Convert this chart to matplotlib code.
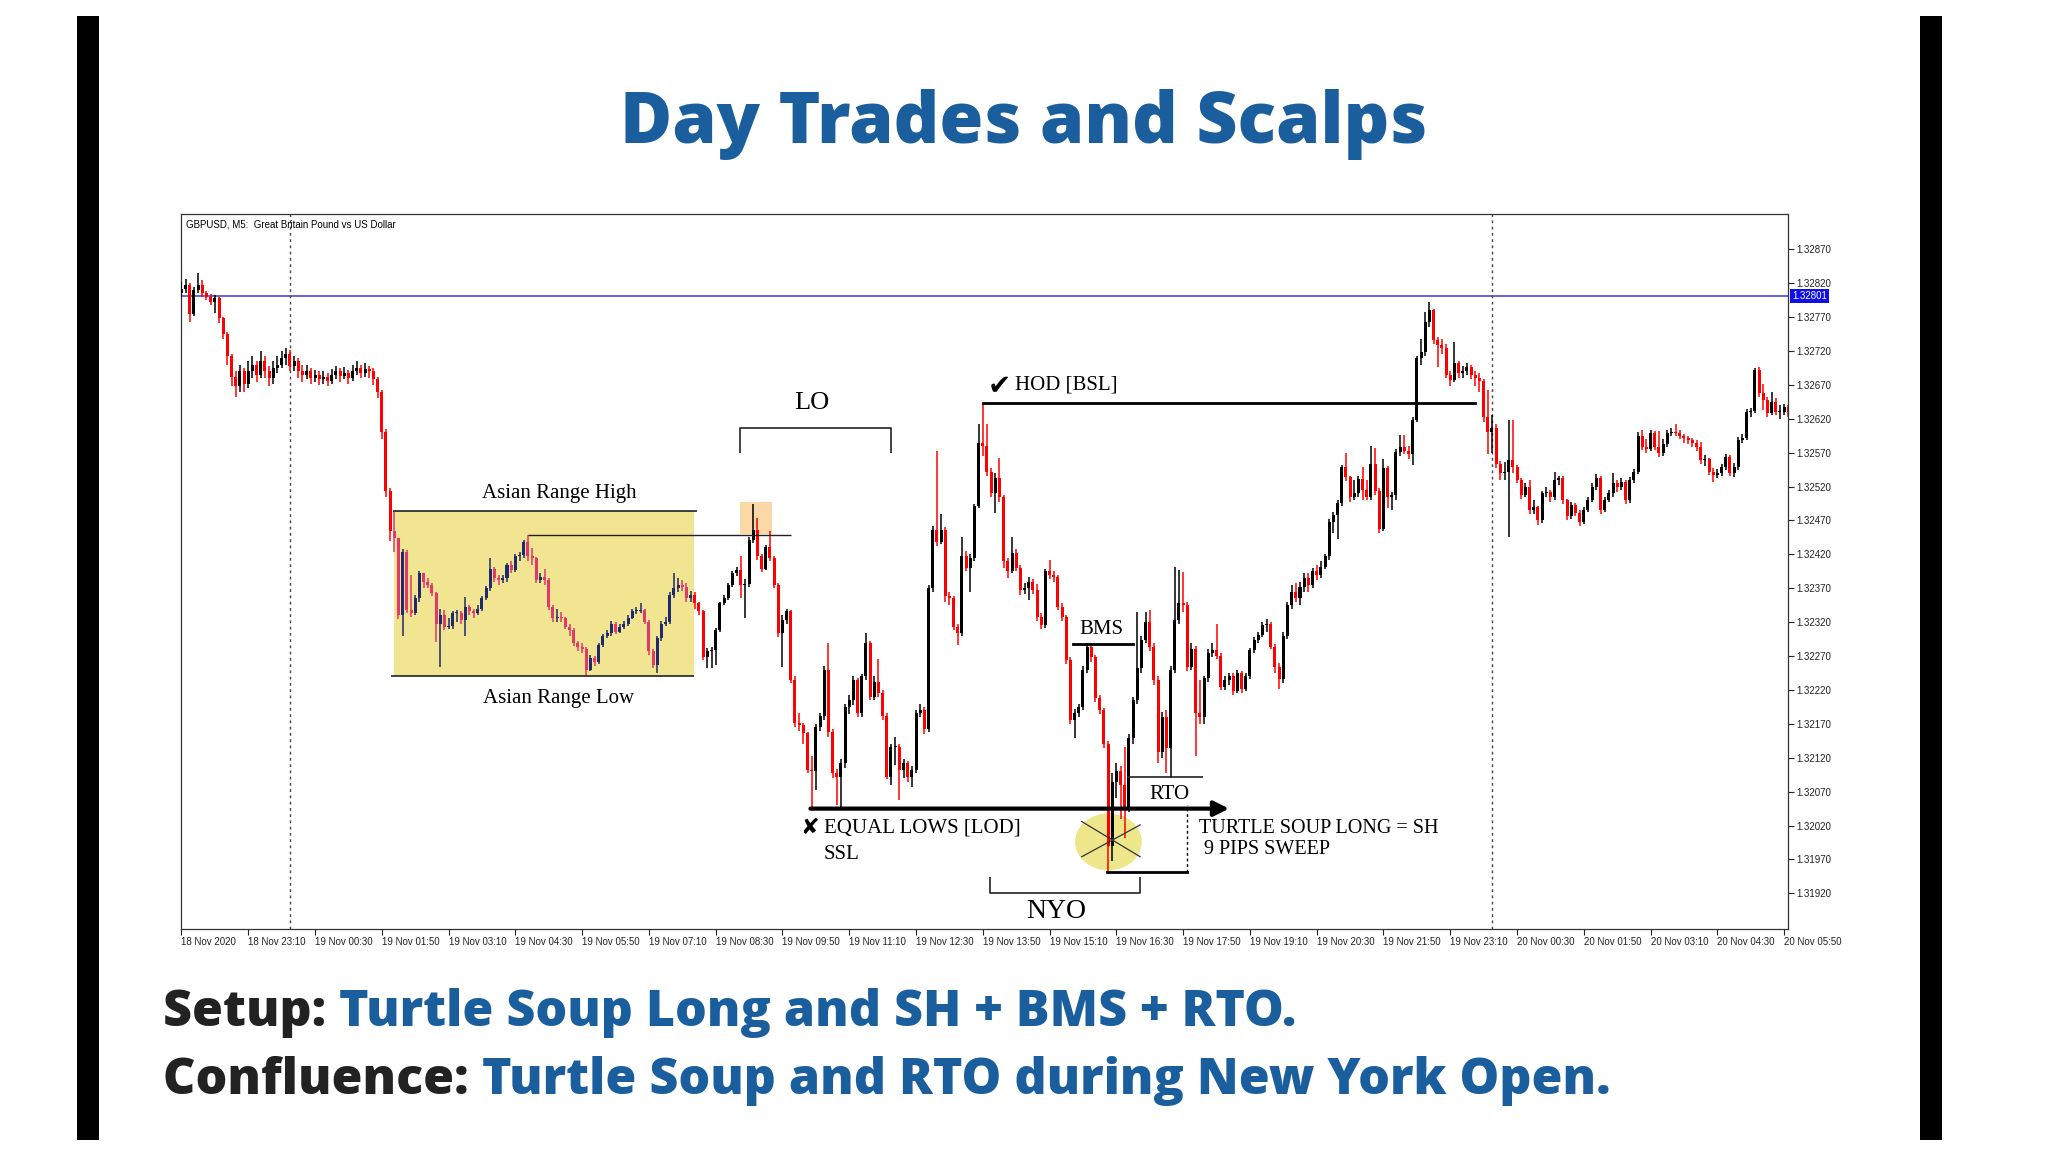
import matplotlib
matplotlib.use('Agg')
import matplotlib.pyplot as plt
from matplotlib.patches import Rectangle, Ellipse
import matplotlib.transforms as mtransforms

# ---------------- data (price = 1.3 + value / 100000), GBPUSD M5 ----------------
first_open = 2805
closes = [
    2812, 2818, 2775, 2810, 2818, 2805, 2800, 2793, 2798, 2768,
    2745, 2712, 2682, 2668, 2690, 2672, 2690, 2700, 2685, 2705,
    2690, 2680, 2695, 2700, 2710, 2715, 2698, 2705, 2690, 2685,
    2690, 2680, 2685, 2678, 2682, 2676, 2684, 2690, 2683, 2688,
    2680, 2690, 2695, 2688, 2693, 2690, 2678, 2660, 2600, 2513,
    2455, 2444, 2331, 2424, 2338, 2333, 2355, 2392, 2380, 2375,
    2363, 2318, 2331, 2313, 2315, 2333, 2333, 2323, 2343, 2336,
    2333, 2340, 2355, 2370, 2399, 2385, 2382, 2385, 2404, 2397,
    2417, 2419, 2439, 2417, 2414, 2382, 2387, 2382, 2343, 2326,
    2328, 2326, 2313, 2309, 2289, 2284, 2281, 2250, 2267, 2262,
    2286, 2299, 2304, 2318, 2306, 2313, 2318, 2326, 2336, 2337,
    2338, 2321, 2277, 2257, 2296, 2318, 2321, 2360, 2370, 2375,
    2372, 2355, 2360, 2348, 2336, 2269, 2277, 2279, 2309, 2348,
    2355, 2375, 2392, 2397, 2375, 2377, 2441, 2456, 2417, 2399,
    2431, 2414, 2375, 2304, 2323, 2336, 2235, 2171, 2168, 2156,
    2102, 2100, 2166, 2181, 2250, 2158, 2097, 2092, 2112, 2195,
    2205, 2235, 2186, 2240, 2289, 2210, 2232, 2215, 2181, 2092,
    2136, 2136, 2102, 2112, 2092, 2102, 2186, 2190, 2163, 2370,
    2456, 2439, 2456, 2358, 2355, 2313, 2304, 2417, 2400, 2414,
    2491, 2585, 2580, 2542, 2511, 2532, 2504, 2410, 2395, 2422,
    2400, 2367, 2370, 2380, 2367, 2328, 2316, 2395, 2390, 2387,
    2343, 2328, 2264, 2176, 2186, 2195, 2250, 2284, 2269, 2208,
    2190, 2141, 1990, 2085, 2100, 2080, 2045, 2149, 2205, 2252,
    2294, 2320, 2284, 2235, 2129, 2180, 2134, 2250, 2323, 2348,
    2345, 2254, 2281, 2186, 2180, 2237, 2274, 2279, 2270, 2225,
    2235, 2240, 2218, 2245, 2222, 2240, 2279, 2294, 2301, 2316,
    2318, 2284, 2254, 2236, 2300, 2345, 2365, 2355, 2372, 2385,
    2375, 2395, 2390, 2402, 2417, 2468, 2478, 2496, 2549, 2534,
    2504, 2510, 2531, 2515, 2504, 2554, 2514, 2458, 2547, 2505,
    2508, 2571, 2579, 2573, 2568, 2618, 2709, 2719, 2763, 2780,
    2736, 2729, 2725, 2685, 2677, 2702, 2687, 2690, 2697, 2685,
    2680, 2676, 2623, 2600, 2606, 2554, 2540, 2542, 2559, 2549,
    2530, 2508, 2520, 2485, 2490, 2471, 2510, 2512, 2505, 2530,
    2532, 2500, 2476, 2493, 2481, 2468, 2485, 2500, 2520, 2532,
    2485, 2500, 2510, 2525, 2520, 2527, 2500, 2530, 2542, 2594,
    2579, 2576, 2599, 2579, 2569, 2583, 2599, 2601, 2599, 2594,
    2591, 2588, 2584, 2578, 2559, 2560, 2542, 2537, 2540, 2549,
    2564, 2540, 2549, 2589, 2591, 2630, 2631, 2692, 2658, 2648,
    2628, 2645, 2630, 2630, 2637, 2630,
]
highs = [
    2822, 2826, 2820, 2815, 2835, 2824, 2808, 2804, 2802, 2800,
    2770, 2748, 2716, 2690, 2700, 2695, 2705, 2712, 2705, 2720,
    2712, 2698, 2705, 2712, 2720, 2725, 2722, 2712, 2710, 2700,
    2700, 2695, 2692, 2690, 2690, 2688, 2694, 2698, 2695, 2696,
    2692, 2700, 2705, 2700, 2702, 2698, 2695, 2682, 2662, 2605,
    2518, 2484, 2444, 2428, 2426, 2390, 2360, 2395, 2392, 2385,
    2378, 2365, 2340, 2338, 2326, 2336, 2338, 2336, 2357, 2346,
    2340, 2345, 2358, 2374, 2414, 2402, 2390, 2390, 2407, 2410,
    2420, 2424, 2441, 2449, 2430, 2416, 2392, 2398, 2385, 2345,
    2340, 2335, 2328, 2318, 2312, 2292, 2290, 2284, 2272, 2270,
    2290, 2302, 2308, 2322, 2320, 2318, 2322, 2330, 2340, 2342,
    2348, 2340, 2323, 2280, 2300, 2322, 2328, 2365, 2392, 2385,
    2382, 2378, 2366, 2364, 2350, 2338, 2282, 2284, 2312, 2350,
    2360, 2378, 2396, 2402, 2417, 2384, 2445, 2495, 2473, 2420,
    2434, 2454, 2418, 2378, 2330, 2340, 2338, 2240, 2186, 2172,
    2158, 2122, 2170, 2186, 2256, 2289, 2162, 2104, 2118, 2200,
    2212, 2240, 2238, 2244, 2304, 2292, 2240, 2265, 2220, 2186,
    2140, 2150, 2140, 2118, 2115, 2108, 2190, 2200, 2195, 2375,
    2462, 2573, 2480, 2460, 2365, 2358, 2318, 2446, 2425, 2420,
    2495, 2613, 2643, 2613, 2548, 2540, 2562, 2508, 2415, 2445,
    2428, 2405, 2378, 2386, 2384, 2377, 2334, 2398, 2412, 2395,
    2390, 2348, 2330, 2268, 2192, 2200, 2255, 2289, 2287, 2272,
    2212, 2194, 2145, 2098, 2112, 2108, 2136, 2155, 2210, 2335,
    2300, 2335, 2338, 2290, 2240, 2188, 2190, 2255, 2402, 2397,
    2394, 2350, 2290, 2285, 2235, 2240, 2280, 2290, 2318, 2275,
    2240, 2245, 2245, 2250, 2248, 2245, 2282, 2298, 2305, 2321,
    2325, 2320, 2288, 2260, 2305, 2350, 2375, 2378, 2380, 2392,
    2392, 2400, 2405, 2410, 2420, 2472, 2482, 2500, 2552, 2570,
    2536, 2530, 2535, 2549, 2530, 2580, 2577, 2518, 2560, 2550,
    2512, 2575, 2596, 2596, 2580, 2622, 2712, 2738, 2778, 2793,
    2782, 2740, 2738, 2730, 2690, 2734, 2705, 2698, 2702, 2700,
    2690, 2688, 2678, 2662, 2625, 2612, 2558, 2556, 2618, 2618,
    2552, 2533, 2525, 2530, 2500, 2492, 2513, 2520, 2515, 2542,
    2536, 2535, 2502, 2498, 2496, 2485, 2490, 2505, 2525, 2538,
    2535, 2505, 2515, 2540, 2530, 2532, 2530, 2534, 2546, 2601,
    2604, 2590, 2603, 2602, 2602, 2590, 2604, 2606, 2613, 2603,
    2598, 2595, 2592, 2588, 2586, 2566, 2562, 2548, 2546, 2553,
    2568, 2566, 2555, 2593, 2598, 2634, 2636, 2695, 2697, 2672,
    2652, 2660, 2650, 2640, 2642, 2640,
]
lows = [
    2800, 2806, 2763, 2772, 2806, 2800, 2795, 2788, 2776, 2762,
    2738, 2700, 2668, 2652, 2660, 2660, 2665, 2680, 2675, 2680,
    2680, 2668, 2672, 2688, 2695, 2700, 2690, 2690, 2680, 2675,
    2678, 2672, 2675, 2670, 2672, 2668, 2672, 2678, 2675, 2678,
    2672, 2676, 2685, 2680, 2682, 2680, 2670, 2650, 2590, 2505,
    2440, 2424, 2325, 2299, 2333, 2328, 2330, 2350, 2370, 2370,
    2358, 2291, 2254, 2308, 2310, 2310, 2321, 2318, 2300, 2330,
    2326, 2330, 2336, 2352, 2366, 2380, 2375, 2378, 2380, 2392,
    2394, 2410, 2415, 2410, 2405, 2378, 2378, 2375, 2338, 2320,
    2320, 2320, 2310, 2300, 2285, 2278, 2275, 2240, 2248, 2256,
    2258, 2284, 2296, 2300, 2302, 2304, 2310, 2315, 2324, 2332,
    2334, 2318, 2272, 2252, 2245, 2292, 2314, 2318, 2356, 2365,
    2366, 2350, 2350, 2340, 2330, 2264, 2252, 2252, 2257, 2305,
    2345, 2352, 2372, 2388, 2355, 2326, 2372, 2437, 2412, 2394,
    2397, 2410, 2370, 2298, 2254, 2318, 2230, 2165, 2160, 2141,
    2098, 2045, 2072, 2160, 2176, 2150, 2090, 2050, 2048, 2105,
    2185, 2198, 2180, 2180, 2235, 2205, 2205, 2210, 2176, 2088,
    2080, 2110, 2058, 2090, 2085, 2077, 2098, 2180, 2155, 2158,
    2365, 2432, 2435, 2350, 2345, 2308, 2286, 2300, 2395, 2365,
    2410, 2488, 2565, 2535, 2505, 2481, 2498, 2400, 2385, 2392,
    2395, 2360, 2362, 2352, 2362, 2322, 2310, 2312, 2384, 2380,
    2338, 2322, 2258, 2170, 2149, 2180, 2190, 2245, 2262, 2202,
    2184, 2135, 1952, 1968, 2060, 2030, 2002, 2040, 2140, 2200,
    2245, 2290, 2278, 2228, 2112, 2120, 2097, 2090, 2245, 2318,
    2335, 2248, 2250, 2122, 2170, 2170, 2232, 2268, 2265, 2220,
    2220, 2228, 2212, 2215, 2215, 2218, 2236, 2275, 2290, 2298,
    2305, 2280, 2245, 2222, 2230, 2295, 2340, 2350, 2345, 2365,
    2365, 2370, 2382, 2385, 2398, 2412, 2452, 2443, 2492, 2528,
    2498, 2500, 2505, 2500, 2500, 2500, 2508, 2452, 2455, 2488,
    2485, 2500, 2565, 2568, 2560, 2552, 2615, 2700, 2712, 2755,
    2730, 2697, 2715, 2680, 2668, 2675, 2680, 2680, 2685, 2678,
    2668, 2660, 2615, 2568, 2570, 2548, 2530, 2530, 2446, 2540,
    2525, 2502, 2505, 2480, 2480, 2463, 2466, 2505, 2498, 2500,
    2522, 2495, 2470, 2472, 2476, 2462, 2465, 2482, 2498, 2515,
    2480, 2482, 2497, 2505, 2512, 2515, 2495, 2496, 2525, 2538,
    2574, 2570, 2572, 2574, 2563, 2565, 2578, 2594, 2595, 2590,
    2585, 2583, 2578, 2572, 2554, 2550, 2537, 2527, 2532, 2535,
    2545, 2535, 2534, 2545, 2585, 2588, 2622, 2628, 2652, 2633,
    2622, 2625, 2625, 2620, 2625, 2622,
]

xtick_labels = [
    '18 Nov 2020', '18 Nov 23:10', '19 Nov 00:30', '19 Nov 01:50', '19 Nov 03:10',
    '19 Nov 04:30', '19 Nov 05:50', '19 Nov 07:10', '19 Nov 08:30', '19 Nov 09:50',
    '19 Nov 11:10', '19 Nov 12:30', '19 Nov 13:50', '19 Nov 15:10', '19 Nov 16:30',
    '19 Nov 17:50', '19 Nov 19:10', '19 Nov 20:30', '19 Nov 21:50', '19 Nov 23:10',
    '20 Nov 00:30', '20 Nov 01:50', '20 Nov 03:10', '20 Nov 04:30', '20 Nov 05:50',
]
ytick_labels = [
    '1.31920', '1.31970', '1.32020', '1.32070', '1.32120', '1.32170', '1.32220',
    '1.32270', '1.32320', '1.32370', '1.32420', '1.32470', '1.32520', '1.32570',
    '1.32620', '1.32670', '1.32720', '1.32770', '1.32820', '1.32870',
]
current_price = 1.32801

# key levels (points)
asia_high = 2484
asia_low = 2240
inner_high = 2449
hod = 2643
bms = 2288
rto = 2091
equal_lows = 2045
sweep_low = 1952


def P(v):
    return 1.3 + v / 100000.0


SERIF = ['Liberation Serif', 'DejaVu Serif', 'DejaVu Sans']
SANS = ['Liberation Sans', 'DejaVu Sans']
HEAD = ['Open Sans', 'DejaVu Sans']

fig = plt.figure(figsize=(20.48, 11.52), dpi=100)
fig.patch.set_facecolor('white')

# side black bars
fig.add_artist(Rectangle((0.0376, 0.0104), 0.0107, 0.9756, transform=fig.transFigure,
                         facecolor='black', edgecolor='none'))
fig.add_artist(Rectangle((0.9375, 0.0104), 0.0107, 0.9756, transform=fig.transFigure,
                         facecolor='black', edgecolor='none'))

ax = fig.add_axes([0.0886, 0.1939, 0.7844, 0.6203])
ax.set_facecolor('white')

n = len(closes)
opens = [first_open] + closes[:-1]
xs = list(range(n))

ASIA_X0, ASIA_X1 = 50.9, 122.7
body_colors = []
bottoms = []
heights = []
for i in xs:
    o, c = opens[i], closes[i]
    bull = c >= o
    inside = ASIA_X0 <= i <= ASIA_X1
    if inside:
        col = '#1f2a6e' if bull else '#e2386c'
    else:
        col = 'black' if bull else '#ff0000'
    body_colors.append(col)
    lo = min(P(o), P(c))
    hi = max(P(o), P(c))
    bottoms.append(lo)
    heights.append(max(hi - lo, 0.000014))

ax.vlines(xs, [P(v) for v in lows], [P(v) for v in highs], colors=body_colors,
          linewidth=1.1, zorder=3)
ax.bar(xs, heights, bottom=bottoms, width=0.72, color=body_colors, linewidth=0, zorder=3)

# Asian range box & orange highlight
ax.add_patch(Rectangle((ASIA_X0, P(asia_low)), ASIA_X1 - ASIA_X0, P(asia_high) - P(asia_low),
                       facecolor='#f2e591', edgecolor='none', zorder=1))
ax.add_patch(Rectangle((133.9, P(2450)), 7.7, P(2497) - P(2450),
                       facecolor='#fad9a6', edgecolor='none', zorder=1))

# current price line and day separators
ax.axhline(current_price, color='#3a3ad6', lw=1.1, zorder=2)
for xv in (26, 314):
    ax.axvline(xv, color='#444444', lw=1.0, ls=(0, (2, 2.5)), zorder=2)

ln = dict(color='#222222', zorder=4, solid_capstyle='butt')
ax.plot([50.8, 123.6], [P(asia_high)] * 2, lw=1.2, **ln)
ax.plot([50.2, 122.7], [P(asia_low)] * 2, lw=1.2, **ln)
ax.plot([83, 146], [P(inner_high)] * 2, lw=1.0, **ln)
ax.text(90.5, P(2510), 'Asian Range High', ha='center', va='center', fontsize=15, family=SERIF, zorder=5)
ax.text(90.3, P(2207), 'Asian Range Low', ha='center', va='center', fontsize=15, family=SERIF, zorder=5)

# LO bracket
ax.plot([133.9, 133.9, 170, 170], [P(2570), P(2607), P(2607), P(2570)], lw=1.2, **ln)
ax.text(151, P(2643), 'LO', ha='center', va='center', fontsize=19, family=SERIF, zorder=5)

# HOD
ax.plot([192, 309.9], [P(hod)] * 2, lw=2.0, color='black', zorder=4)
ax.text(193.2, P(2668), '\u2714', ha='left', va='center', fontsize=20, family=['DejaVu Sans'], zorder=5)
ax.text(199.6, P(2670), 'HOD [BSL]', ha='left', va='center', fontsize=15, family=SERIF, zorder=5)

# BMS
ax.plot([213.7, 228], [P(bms)] * 2, lw=2.0, color='black', zorder=4)
ax.text(220.5, P(2309), 'BMS', ha='center', va='center', fontsize=15, family=SERIF, zorder=5)

# RTO
ax.plot([226.5, 244.7], [P(rto)] * 2, lw=1.2, **ln)
ax.text(236.6, P(2066), 'RTO', ha='center', va='center', fontsize=15, family=SERIF, zorder=5)

# Equal lows arrow
ax.annotate('', xy=(251.0, P(equal_lows)), xytext=(150.7, P(equal_lows)),
            arrowprops=dict(arrowstyle='-|>,head_length=0.9,head_width=0.45', lw=3.0,
                            color='black', shrinkA=0, shrinkB=0), zorder=5)
ax.text(150.6, P(2016), '\u2718', ha='center', va='center', fontsize=16, family=['DejaVu Sans'], zorder=5)
ax.text(153.9, P(2016), 'EQUAL LOWS [LOD]', ha='left', va='center', fontsize=15, family=SERIF, zorder=5)
ax.text(153.9, P(1978), 'SSL', ha='left', va='center', fontsize=15, family=SERIF, zorder=5)

# Sweep highlight
ax.add_patch(Ellipse((222.1, P(1996)), 16, P(2038) - P(1954), facecolor='#ece47e',
                     edgecolor='none', alpha=0.9, zorder=2))
ax.plot([215.7, 229.7], [P(2026), P(1974)], color='#333333', lw=0.9, zorder=4)
ax.plot([215.7, 229.7], [P(1974), P(2021)], color='#333333', lw=0.9, zorder=4)
ax.plot([221.7, 240.9], [P(sweep_low)] * 2, lw=2.0, color='black', zorder=4)
ax.plot([240.9, 240.9], [P(sweep_low), P(2050)], lw=1.0, color='black', ls=(0, (2, 2)), zorder=4)
ax.text(243.8, P(2016), 'TURTLE SOUP LONG = SH', ha='left', va='center', fontsize=14.5, family=SERIF, zorder=5)
ax.text(243.8, P(1984), ' 9 PIPS SWEEP', ha='left', va='center', fontsize=14.5, family=SERIF, zorder=5)

# NYO bracket
ax.plot([193.8, 193.8, 229.7, 229.7], [P(1944), P(1920), P(1920), P(1944)], lw=1.2, **ln)
ax.text(209.7, P(1893), 'NYO', ha='center', va='center', fontsize=20, family=SERIF, zorder=5)

# chart caption
ax.text(0.003, 0.992, 'GBPUSD, M5:  Great Britain Pound vs US Dollar', transform=ax.transAxes,
        ha='left', va='top', fontsize=7, family=SANS, zorder=6)

# axes formatting
ax.set_xlim(0.1, 384.9)
ax.set_ylim(1.31868, 1.32922)
ax.yaxis.tick_right()
ax.set_yticks([float(t) for t in ytick_labels])
ax.set_yticklabels(ytick_labels, family=SANS, fontsize=7)
ax.set_xticks([16 * k for k in range(len(xtick_labels))])
ax.set_xticklabels(xtick_labels, family=SANS, fontsize=7, ha='left')
ax.tick_params(axis='y', direction='out', length=4, width=0.8, pad=2, colors='#222222')
ax.tick_params(axis='x', direction='out', length=4, width=0.8, pad=2, colors='#222222')
for s in ax.spines.values():
    s.set_color('#333333')
    s.set_linewidth(0.9)

# current price tag
ax.text(1.0025, current_price, '1.32801', transform=mtransforms.blended_transform_factory(ax.transAxes, ax.transData),
        ha='left', va='center', fontsize=7, family=SANS, color='white', zorder=7, clip_on=False,
        bbox=dict(boxstyle='square,pad=0.2', facecolor='#1010e6', edgecolor='none'))

# title and captions
BLUE = '#1b5e9e'
fig.text(0.5, 0.892, 'Day Trades and Scalps', ha='center', va='center', fontsize=51.3,
         fontweight=800, family=HEAD, color=BLUE)

renderer = fig.canvas.get_renderer()
for yfrac, head, tail in ((0.1205, 'Setup: ', 'Turtle Soup Long and SH + BMS + RTO.'),
                          (0.0615, 'Confluence: ', 'Turtle Soup and RTO during New York Open.')):
    t1 = fig.text(0.0797, yfrac, head, ha='left', va='center', fontsize=36.1, fontweight=800,
                  family=HEAD, color='#222222')
    bb = t1.get_window_extent(renderer=renderer)
    fig.text(bb.x1 / fig.bbox.width, yfrac, tail, ha='left', va='center', fontsize=36.1,
             fontweight=800, family=HEAD, color=BLUE)

fig.savefig('out.png', dpi=100, facecolor='white')
